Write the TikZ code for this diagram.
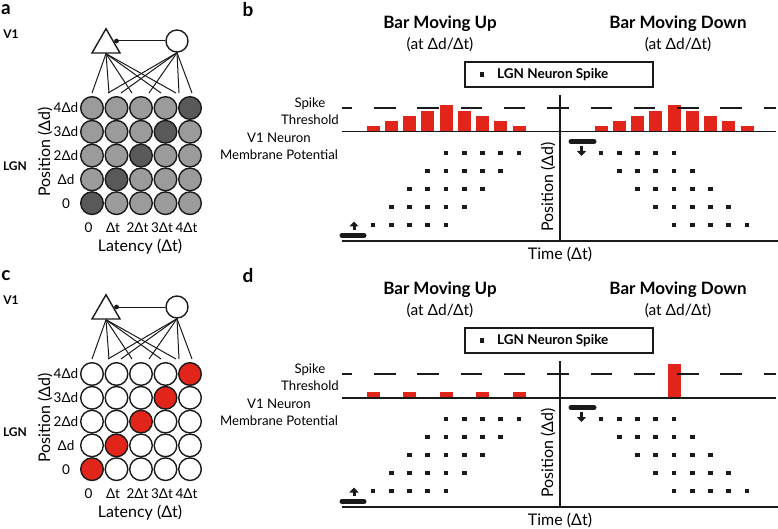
\documentclass[tikz,border=0pt]{standalone}
\usepackage{fontspec}
\setmainfont{Lato}
\usetikzlibrary{arrows.meta,shapes.geometric}
\definecolor{ink}{HTML}{1A1A1A}
\definecolor{spikered}{HTML}{E2251B}
\definecolor{cellgray}{HTML}{9B9B9B}
\definecolor{celldark}{HTML}{595959}
\tikzset{
  panel/.style={font=\bfseries\fontsize{19}{21}\selectfont, inner sep=0pt},
  area/.style={font=\bfseries\fontsize{12}{14}\selectfont, inner sep=0pt},
  lab/.style={font=\fontsize{13.2}{17}\selectfont, inner sep=0pt},
  tick/.style={font=\fontsize{13.5}{17}\selectfont, inner sep=0pt},
  axlab/.style={font=\fontsize{16}{18}\selectfont, inner sep=0pt},
  ttl/.style={font=\bfseries\fontsize{17}{19}\selectfont, inner sep=0pt},
  subttl/.style={font=\fontsize{15.5}{17}\selectfont, inner sep=0pt},
  cell/.style={circle, draw=ink, line width=1.4pt, minimum size=22.6pt, inner sep=0pt},
  exc/.style={regular polygon, regular polygon sides=3, draw=ink, line width=1.4pt, minimum size=32.3pt, inner sep=0pt},
  inh/.style={circle, draw=ink, line width=1.4pt, minimum size=22pt, inner sep=0pt},
  wire/.style={draw=ink, line width=1pt},
  spk/.style={rectangle, fill=ink, minimum size=4.6pt, inner sep=0pt},
  thr/.style={draw=ink, line width=1.4pt, dash pattern=on 21.5pt off 21.8pt, dash phase=11.3pt},
  rest/.style={draw=ink, line width=1.6pt},
  vert/.style={draw=ink, line width=2.2pt},
  timeax/.style={draw=ink, line width=2.6pt},
  barmark/.style={draw=ink, line width=5pt, line cap=round},
  barmove/.style={draw=ink, line width=3pt, -{Triangle[width=9pt,length=5pt]}},
  redbar/.style={fill=spikered}
}
\begin{document}
\begin{tikzpicture}[x=1pt,y=-1pt]
  \useasboundingbox (0,0) rectangle (778,529);

  % membrane potential bars (b, then d)
  \foreach \k/\h in {0/5.7,1/10.7,2/15.7,3/20.7,4/26.4,5/20.7,6/15.7,7/10.7,8/5.7}{
    \fill[redbar] ({366.5+18.25*\k},131.7) rectangle ++(13,-\h);
    \fill[redbar] ({594.5+18.25*\k},131.7) rectangle ++(13,-\h);
  }
  \foreach \k in {0,2,...,8}
    \fill[redbar] ({366.5+18.25*\k},397.7) rectangle ++(13,-5.7);
  \fill[redbar] ({594.5+18.25*4},397.7) rectangle ++(13,-34);

  \foreach \oy/\pl/\pr/\cbase/\cdiag in {0/a/b/cellgray/celldark,266/c/d/white/spikered}{
  \begin{scope}[shift={(0,\oy)}]
    % circuit
    \node[panel] (lab\pl) at (6,10) {\pl};
    \node[area] (v1\pl) at (11,34) {V1};
    \node[area] (lgn\pl) at (15,166) {LGN};
    \node[exc] (tri\pl) at (106,44.9) {};
    \node[inh] (ring\pl) at (177,41) {};
    \coordinate (syn\pl) at (116.5,41);
    \draw[wire] (ring\pl.west) -- (syn\pl);
    \fill[ink] (syn\pl) circle (2.4);
    \foreach \x [count=\i] in {92,109,132,161,176}{
      \coordinate (ft\pl\i) at (\x,93);
      \draw[wire] (tri\pl.side 2) -- (ft\pl\i);
    }
    \foreach \x [count=\i] in {108,121,149,179,192}{
      \coordinate (fr\pl\i) at (\x,93);
      \draw[wire] (ring\pl.south) -- (fr\pl\i);
    }
    % LGN grid
    \foreach \k in {0,...,4}{
      \foreach \j in {0,...,4}{
        \pgfmathtruncatemacro\on{\k==\j ? 100 : 0}
        \node[cell, fill=\cdiag!\on!\cbase] (c\pl\k\j) at ({92+24.5*\k},{203.2-23.8*\j}) {};
      }
    }
    \foreach \t [count=\j from 0] in {0,Δd,2Δd,3Δd,4Δd}
      \node[tick] (row\pl\j) at (66,{203.2-23.8*\j}) {\t};
    \foreach \t [count=\k from 0] in {0,Δt,2Δt,3Δt,4Δt}
      \node[tick] (col\pl\k) at ({88.5+24.5*\k},228) {\t};
    \node[axlab, rotate=90] (pos\pl) at (45,152) {Position (Δd)};
    \node[axlab] (lat\pl) at (140,247) {Latency (Δt)};

    % raster
    \node[panel] (lab\pr) at (248,10) {\pr};
    \node[ttl] (up\pr) at (440,24) {Bar Moving Up};
    \node[subttl] (upr\pr) at (440,45) {(at Δd/Δt)};
    \node[ttl] (dn\pr) at (678,24) {Bar Moving Down};
    \node[subttl] (dnr\pr) at (678,45) {(at Δd/Δt)};
    \node[draw=ink, line width=1.5pt, minimum width=188pt, minimum height=25pt, inner sep=0pt] (key\pr) at (559,74.5) {};
    \node[spk] (keydot\pr) at (482,74.5) {};
    \node[font=\bfseries\fontsize{13.5}{15}\selectfont, anchor=west, inner sep=0pt] (keytxt\pr) at (497,74.5) {LGN Neuron Spike};
    \node[lab, align=center] (thr\pr) at (310,111.5) {Spike\\Threshold};
    \node[lab, align=center] (vm\pr) at (279,146.5) {V1 Neuron\\Membrane Potential};
    \draw[thr] (342,108) -- (776,108);
    \draw[rest] (342,131.7) -- (776,131.7);
    \coordinate (ytop\pr) at (560,95);
    \coordinate (org\pr) at (560,241);
    \draw[vert] (ytop\pr) -- (org\pr);
    \draw[timeax] (342,241) -- (778,241);
    \node[axlab] (time\pr) at (560,254) {Time (Δt)};
    \node[axlab, rotate=90] (ypos\pr) at (548,187) {Position (Δd)};
    \foreach \i in {0,...,4}{
      \foreach \m in {0,...,4}{
        \node[spk] (u\pr\i\m) at ({373+18.25*(\i+\m)},{225-18*\i}) {};
        \node[spk] (w\pr\i\m) at ({601+18.25*(\i+\m)},{153+18*\i}) {};
      }
    }
    \draw[barmark] (342,235.5) -- (364,235.5);
    \draw[barmove] (354,230) -- (354,221.5);
    \draw[barmark] (571,141.5) -- (594,141.5);
    \draw[barmove] (581.5,146) -- (581.5,156);
  \end{scope}
  }
\end{tikzpicture}
\end{document}
